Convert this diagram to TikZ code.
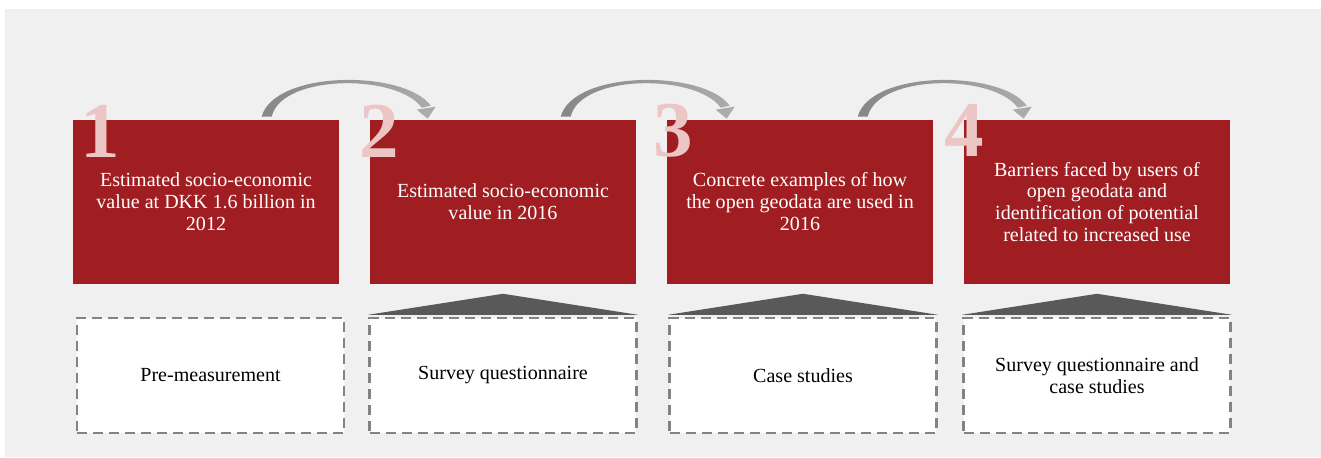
\documentclass[tikz,border=0pt]{standalone}
\usepackage{fontspec}
\setmainfont{Liberation Serif}
\usetikzlibrary{calc}
\definecolor{stepred}{HTML}{A01E21}
\definecolor{numpink}{HTML}{ECC5C5}
\definecolor{panelgray}{HTML}{F0F0F0}
\definecolor{dashgray}{HTML}{838383}
\definecolor{hatgray}{HTML}{595959}
\tikzstyle{stepbox} = [rectangle, minimum width=5.32cm, minimum height=3.28cm, align=center, fill=stepred, text=white, font=\fontsize{11.4}{12.5}\selectfont]
\tikzstyle{method} = [rectangle, minimum width=5.34cm, minimum height=2.3cm, align=center, fill=white, draw=dashgray, line width=0.05cm, dash pattern=on 0.2cm off 0.12cm, font=\fontsize{11.4}{12.5}\selectfont]
\tikzstyle{number} = [anchor=north west, inner sep=0pt, text=numpink, font=\fontsize{45}{45}\selectfont\bfseries]
\tikzstyle{hat} = [fill=hatgray]
\tikzstyle{arcbody} = [left color=black!47, right color=black!33]
\tikzstyle{archead} = [fill=black!33]

\begin{document}
\begin{tikzpicture}[x=0.02cm, y=-0.02cm]
    \fill [white] (0,0) rectangle (1321,457);
    \fill [panelgray] (5,9) rectangle (1321,457);
    \useasboundingbox (0,0) rectangle (1321,457);
    \node [stepbox] at (206,202) (s1) {Estimated socio-economic\\value at DKK 1.6 billion in\\2012};
    \node [stepbox] at (503,202) (s2) {Estimated socio-economic\\value in 2016};
    \node [stepbox] at (800,202) (s3) {Concrete examples of how\\the open geodata are used in\\2016};
    \node [stepbox] at (1097,202) (s4) {Barriers faced by users of\\open geodata and\\identification of potential\\related to increased use};
    \node [number] at (80,105) (n1) {1};
    \node [number] at (359,105) (n2) {2};
    \node [number] at (653,104) (n3) {3};
    \node [number] at (944,104) (n4) {4};
    \node [method] at (210.5,375.5) (m1) {Pre-measurement};
    \node [method] at (503,375.5) (m2) {Survey questionnaire};
    \node [method] at (803,375.5) (m3) {Case studies};
    \node [method] at (1097,375.5) (m4) {Survey questionnaire and\\case studies};
    \fill [hat] ([yshift=0.04cm]m2.north west) -- ([yshift=0.46cm]m2.north) -- ([yshift=0.04cm]m2.north east) -- cycle;
    \fill [hat] ([yshift=0.04cm]m3.north west) -- ([yshift=0.46cm]m3.north) -- ([yshift=0.04cm]m3.north east) -- cycle;
    \fill [hat] ([yshift=0.04cm]m4.north west) -- ([yshift=0.46cm]m4.north) -- ([yshift=0.04cm]m4.north east) -- cycle;
    \coordinate (a1) at ($(s1.north west)+(194,-3)$);
    \coordinate (b1) at ($(s2.north west)+(58,-1)$);
    \coordinate (a2) at ($(s2.north west)+(196,-3)$);
    \coordinate (b2) at ($(s3.north west)+(60,-1)$);
    \coordinate (a3) at ($(s3.north west)+(196,-3)$);
    \coordinate (b3) at ($(s4.north west)+(60,-1)$);
    \shade [arcbody] ($(a1)+(-5,0)$) .. controls ($(a1)+(8,-47)$) and ($(b1)+(-23,-49)$) .. ($(b1)+(3,-13)$) -- ($(b1)+(-6,-11)$) .. controls ($(b1)+(-30,-45)$) and ($(a1)+(15,-43)$) .. ($(a1)+(5,0)$) -- cycle;
    \fill [archead] ($(b1)+(-11,-9)$) -- ($(b1)+(8,-12)$) -- (b1) -- cycle;
    \shade [arcbody] ($(a2)+(-5,0)$) .. controls ($(a2)+(8,-47)$) and ($(b2)+(-23,-49)$) .. ($(b2)+(3,-13)$) -- ($(b2)+(-6,-11)$) .. controls ($(b2)+(-30,-45)$) and ($(a2)+(15,-43)$) .. ($(a2)+(5,0)$) -- cycle;
    \fill [archead] ($(b2)+(-11,-9)$) -- ($(b2)+(8,-12)$) -- (b2) -- cycle;
    \shade [arcbody] ($(a3)+(-5,0)$) .. controls ($(a3)+(8,-47)$) and ($(b3)+(-23,-49)$) .. ($(b3)+(3,-13)$) -- ($(b3)+(-6,-11)$) .. controls ($(b3)+(-30,-45)$) and ($(a3)+(15,-43)$) .. ($(a3)+(5,0)$) -- cycle;
    \fill [archead] ($(b3)+(-11,-9)$) -- ($(b3)+(8,-12)$) -- (b3) -- cycle;
\end{tikzpicture}
\end{document}
